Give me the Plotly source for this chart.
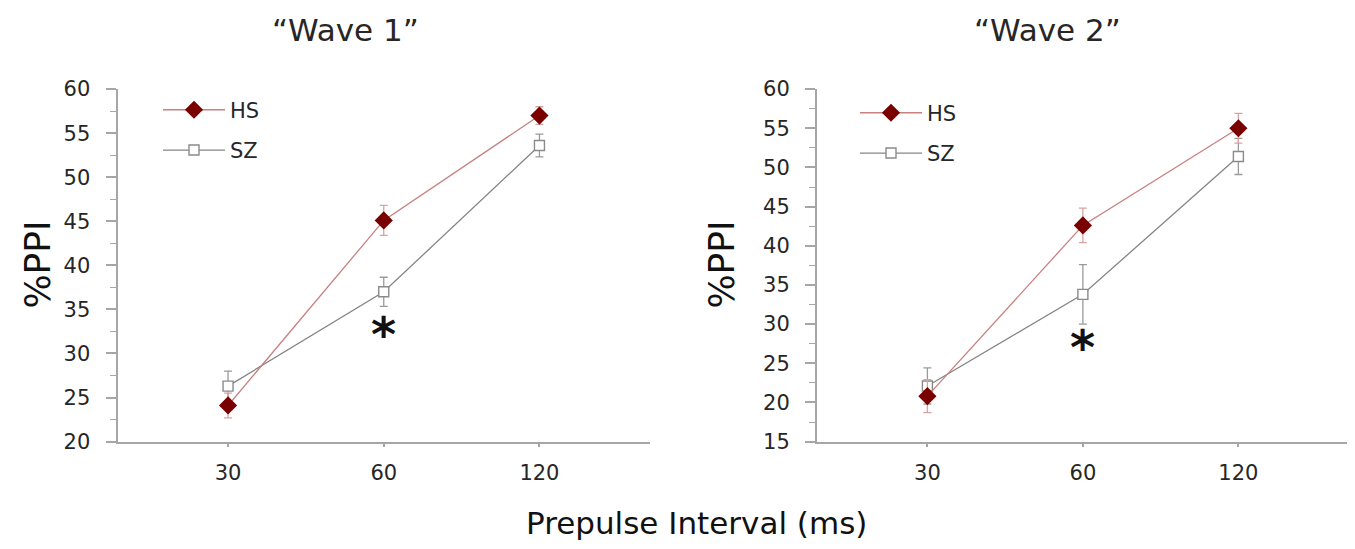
import plotly.graph_objects as go

# ---- data ----
categories = ["30", "60", "120"]

wave1_hs = [24.1, 45.1, 57.0]
wave1_hs_err = [1.4, 1.7, 1.0]
wave1_sz = [26.3, 37.0, 53.6]
wave1_sz_err = [1.7, 1.65, 1.3]

wave2_hs = [20.8, 42.6, 55.0]
wave2_hs_err = [2.1, 2.2, 1.9]
wave2_sz = [22.1, 33.8, 51.4]
wave2_sz_err = [2.3, 3.8, 2.3]

panel_titles = ["\u201cWave 1\u201d", "\u201cWave 2\u201d"]
series_names = ["HS", "SZ"]
star_y = [32.9, 27.8]

W, H = 1355, 549
# observed placement of the paper inside the screenshot
OX, OY, HR = 8.0, 20.4, 525.0

FONT = "DejaVu Sans, Liberation Sans, Arial, sans-serif"

HS_LINE = "#c98080"
HS_MARK = "#7a0000"
HS_ERR = "#d9a3a3"
SZ_LINE = "#858585"
SZ_MARK = "#8a8a8a"
SZ_ERR = "#9a9a9a"
AXIS = "#a6a6a6"
TXT = "#262626"

def px_x(p):
    return (p - OX) / W

def px_y(p):
    return 1 - (p - OY) / HR

fig = go.Figure()

panels = [
    dict(hs=wave1_hs, hse=wave1_hs_err, sz=wave1_sz, sze=wave1_sz_err,
         xa="x", ya="y", legend="legend"),
    dict(hs=wave2_hs, hse=wave2_hs_err, sz=wave2_sz, sze=wave2_sz_err,
         xa="x2", ya="y2", legend="legend2"),
]

for p in panels:
    fig.add_trace(go.Scatter(
        x=categories, y=p["sz"], name=series_names[1],
        mode="lines+markers", xaxis=p["xa"], yaxis=p["ya"],
        line=dict(color=SZ_LINE, width=1.3),
        marker=dict(symbol="square", size=10, color="white",
                    line=dict(color=SZ_MARK, width=1.4)),
        error_y=dict(type="data", array=p["sze"], visible=True,
                     color=SZ_ERR, thickness=1.3, width=4),
        legend=p["legend"], legendgroup="b" + p["legend"], legendrank=2,
    ))
    fig.add_trace(go.Scatter(
        x=categories, y=p["hs"], name=series_names[0],
        mode="lines+markers", xaxis=p["xa"], yaxis=p["ya"],
        line=dict(color=HS_LINE, width=1.3),
        marker=dict(symbol="diamond", size=14, color=HS_MARK,
                    line=dict(width=0)),
        error_y=dict(type="data", array=p["hse"], visible=True,
                     color=HS_ERR, thickness=1.3, width=4),
        legend=p["legend"], legendgroup="a" + p["legend"], legendrank=1,
    ))

ydom = [px_y(442), px_y(89.5)]

common_x = dict(
    type="category", showgrid=False, zeroline=False,
    showline=True, linecolor=AXIS, linewidth=2,
    ticks="outside", ticklen=3, tickcolor=AXIS, tickwidth=1.5,
    tickfont=dict(family=FONT, size=21, color=TXT),
    ticklabelstandoff=8,
)
common_y = dict(
    showgrid=False, zeroline=False,
    showline=True, linecolor=AXIS, linewidth=2,
    ticks="outside", ticklen=10, tickcolor=AXIS, tickwidth=1.5,
    tickfont=dict(family=FONT, size=21, color=TXT),
    ticklabelstandoff=11, dtick=5,
    minor=dict(ticks="outside", ticklen=6, dtick=2.5, tickcolor=AXIS, tickwidth=1.2),
)

leg_common = dict(xanchor="left", yanchor="top", bgcolor="rgba(0,0,0,0)",
                  itemwidth=62, traceorder="grouped", tracegroupgap=10,
                  font=dict(family=FONT, size=21, color=TXT))

fig.update_layout(
    width=W, height=H,
    margin=dict(l=0, r=0, t=0, b=0),
    paper_bgcolor="white", plot_bgcolor="white",
    xaxis=dict(domain=[px_x(117.5), px_x(650)], range=[-0.71, 2.71],
               anchor="y", **common_x),
    yaxis=dict(domain=ydom, range=[20, 60], tick0=20, anchor="x", **common_y),
    xaxis2=dict(domain=[px_x(817), min(1.0, px_x(1355))], range=[-0.71, 2.75],
                anchor="y2", **common_x),
    yaxis2=dict(domain=ydom, range=[15, 60], tick0=15, anchor="x2", **common_y),
    legend=dict(x=px_x(158), y=px_y(90), **leg_common),
    legend2=dict(x=px_x(855), y=px_y(93), **leg_common),
    showlegend=True,
)

annotations = [
    dict(text=panel_titles[0], x=px_x(345), y=px_y(30), xref="paper", yref="paper",
         xanchor="center", yanchor="middle", showarrow=False,
         font=dict(family=FONT, size=31, color=TXT)),
    dict(text=panel_titles[1], x=px_x(1047), y=px_y(30), xref="paper", yref="paper",
         xanchor="center", yanchor="middle", showarrow=False,
         font=dict(family=FONT, size=31, color=TXT)),
    dict(text="%PPI", x=px_x(38), y=px_y(265), xref="paper", yref="paper",
         xanchor="center", yanchor="middle", textangle=-90, showarrow=False,
         font=dict(family=FONT, size=36, color="#111")),
    dict(text="%PPI", x=px_x(722), y=px_y(265), xref="paper", yref="paper",
         xanchor="center", yanchor="middle", textangle=-90, showarrow=False,
         font=dict(family=FONT, size=36, color="#111")),
    dict(text="Prepulse Interval (ms)", x=px_x(696), y=px_y(523), xref="paper",
         yref="paper", xanchor="center", yanchor="middle", showarrow=False,
         font=dict(family=FONT, size=31, color="#111")),
    dict(text="*", x=1, y=star_y[0], xref="x", yref="y", showarrow=False,
         xanchor="center", yanchor="middle", yshift=-6,
         font=dict(family=FONT, size=48, color="#111", weight="bold")),
    dict(text="*", x=1, y=star_y[1], xref="x2", yref="y2", showarrow=False,
         xanchor="center", yanchor="middle", yshift=-6,
         font=dict(family=FONT, size=48, color="#111", weight="bold")),
]
fig.update_layout(annotations=annotations)

fig.write_html("out.html")
